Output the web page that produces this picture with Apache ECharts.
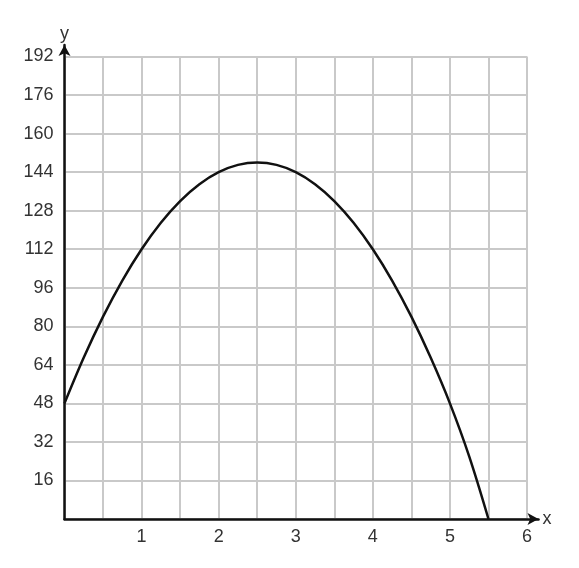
<!DOCTYPE html>
<html>
<head>
<meta charset="utf-8">
<script src="https://cdn.jsdelivr.net/npm/echarts@6/dist/echarts.min.js"></script>
<style>html,body{margin:0;padding:0;background:#fff;}#c{width:579px;height:568px;}</style>
</head>
<body>
<div id="c"></div>
<script>
var xValues = [0, 0.25, 0.5, 0.75, 1, 1.25, 1.5, 1.75, 2, 2.25, 2.5, 2.75, 3, 3.25, 3.5, 3.75, 4, 4.25, 4.5, 4.75, 5, 5.25, 5.5];
var yValues = [48, 67, 84, 99, 112, 123, 132, 139, 144, 147, 148, 147, 144, 139, 132, 123, 112, 99, 84, 67, 48, 26, 0];
var xTickLabels = ['1', '2', '3', '4', '5', '6'];
var yTickLabels = ['16', '32', '48', '64', '80', '96', '112', '128', '144', '160', '176', '192'];

var points = xValues.map(function (x, i) { return [x, yValues[i]]; });
var font = 'Liberation Sans, Arial, sans-serif';
var chart = echarts.init(document.getElementById('c'));
chart.setOption({
  animation: false,
  backgroundColor: '#fff',
  grid: [
    { left: 64.5, top: 56.5, width: 462.5, height: 462.5, containLabel: false },
    { left: 64.5, top: 45, width: 474, height: 474, containLabel: false }
  ],
  xAxis: [
    {
      gridIndex: 0, type: 'value', min: 0, max: 6, interval: 0.5,
      axisLine: { show: false }, axisTick: { show: false },
      splitLine: { show: true, lineStyle: { color: '#c9c9c9', width: 2 } },
      axisLabel: {
        show: true, margin: 9, color: '#333', fontSize: 18, fontFamily: font,
        formatter: function (v) {
          var i = Math.round(v) - 1;
          return (Math.abs(v - Math.round(v)) < 1e-6 && i >= 0) ? xTickLabels[i] : '';
        }
      }
    },
    {
      gridIndex: 1, type: 'value', min: 0, max: 1,
      axisLine: { show: true, lineStyle: { color: '#111', width: 2.5 }, symbol: ['none', 'arrow'], symbolSize: [9, 11] },
      axisTick: { show: false }, axisLabel: { show: false }, splitLine: { show: false },
      name: 'x', nameLocation: 'end', nameGap: 4,
      nameTextStyle: { color: '#333', fontSize: 18, fontFamily: font }
    }
  ],
  yAxis: [
    {
      gridIndex: 0, type: 'value', min: 0, max: 192, interval: 16,
      axisLine: { show: false }, axisTick: { show: false },
      splitLine: { show: true, lineStyle: { color: '#c9c9c9', width: 2 } },
      axisLabel: {
        show: true, margin: 11, color: '#333', fontSize: 18, fontFamily: font,
        formatter: function (v) {
          var i = Math.round(v / 16) - 1;
          return i >= 0 ? yTickLabels[i] : '';
        }
      }
    },
    {
      gridIndex: 1, type: 'value', min: 0, max: 1,
      axisLine: { show: true, lineStyle: { color: '#111', width: 2.5 }, symbol: ['none', 'arrow'], symbolSize: [9, 11] },
      axisTick: { show: false }, axisLabel: { show: false }, splitLine: { show: false },
      name: 'y', nameLocation: 'end', nameGap: 2,
      nameTextStyle: { color: '#333', fontSize: 18, fontFamily: font }
    }
  ],
  series: [
    {
      type: 'line', xAxisIndex: 0, yAxisIndex: 0,
      data: points, smooth: 0.35, showSymbol: false,
      lineStyle: { color: '#111', width: 2.5 },
      z: 5
    }
  ]
});
</script>
</body>
</html>
